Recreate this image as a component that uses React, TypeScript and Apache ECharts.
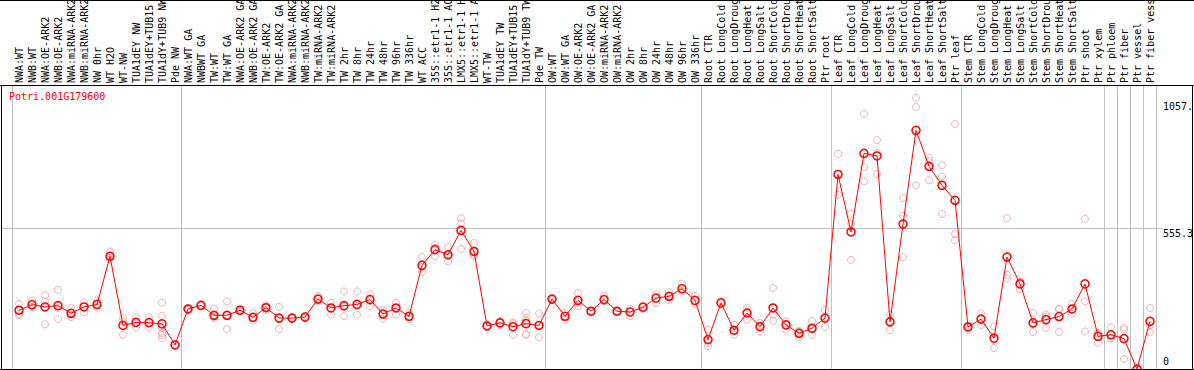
import React, { useEffect, useRef } from "react";
import * as echarts from "echarts";

const geneId = "Potri.001G179600";

const categories = [
  "NWA:WT", "NWB:WT", "NWA:OE-ARK2", "NWB:OE-ARK2", "NWA:miRNA-ARK2", "NWB:miRNA-ARK2",
  "NW 0hr", "WT H2O", "WT-NW", "TUA1dEY NW", "TUA1dEY+TUB15", "TUA1dY+TUB9 NW", "Pde NW",
  "NWA:WT GA", "NWBWT GA", "TW:WT", "TW:WT GA", "NWA:OE-ARK2 GA", "NWB:OE-ARK2 GA",
  "TW:OE-ARK2", "TW:OE-ARK2 GA", "NWA:miRNA-ARK2", "NWB:miRNA-ARK2", "TW:miRNA-ARK2",
  "TW:miRNA-ARK2", "TW 2hr", "TW 8hr", "TW 24hr", "TW 48hr", "TW 96hr", "TW 336hr",
  "WT ACC", "35S::etr1-1 H2O", "35S::etr1-1 ACC", "LMX5::etr1-1 H2O", "LMX5::etr1-1 ACC",
  "WT-TW", "TUA1dEY TW", "TUA1dEY+TUB15", "TUA1dY+TUB9 TW", "Pde TW",
  "OW:WT", "OW:WT GA", "OW:OE-ARK2", "OW:OE-ARK2 GA", "OW:miRNA-ARK2", "OW:miRNA-ARK2",
  "OW 2hr", "OW 8hr", "OW 24hr", "OW 48hr", "OW 96hr", "OW 336hr",
  "Root CTR", "Root LongCold", "Root LongDrought", "Root LongHeat", "Root LongSalt",
  "Root ShortCold", "Root ShortDrought", "Root ShortHeat", "Root ShortSalt", "Ptr root",
  "Leaf CTR", "Leaf LongCold", "Leaf LongDrought", "Leaf LongHeat", "Leaf LongSalt",
  "Leaf ShortCold", "Leaf ShortDrought", "Leaf ShortHeat", "Leaf ShortSalt", "Ptr leaf",
  "Stem CTR", "Stem LongCold", "Stem LongDrought", "Stem LongHeat", "Stem LongSalt",
  "Stem ShortCold", "Stem ShortDrought", "Stem ShortHeat", "Stem ShortSalt", "Ptr shoot",
  "Ptr xylem", "Ptr phloem", "Ptr fiber", "Ptr vessel", "Ptr fiber vessel",
];

const means = [
  232, 254, 245, 250, 220, 245, 255, 445, 172, 184, 183, 178, 95,
  237, 251, 212, 212, 232, 204, 242, 201, 201, 205, 276, 241, 250, 255, 274, 217, 241, 208,
  409, 471, 451, 547, 464, 170, 182, 167, 179, 172,
  276, 208, 271, 228, 274, 228, 225, 244, 280, 287, 317, 271,
  116, 261, 153, 221, 167, 241, 174, 141, 161, 201,
  768, 541, 851, 841, 186, 572, 942, 800, 725, 666,
  166, 197, 122, 442, 336, 182, 195, 207, 237, 336,
  129, 135, 120, 0, 188,
];

const replicates = [
  [257, 217, 212], [271, 244, 247], [291, 267, 176], [312, 197, 241], [242, 204, 214],
  [263, 224, 245], [271, 242, 250], [464, 432, 440], [201, 135, 188], [204, 164, 184],
  [204, 164, 183], [261, 210, 162, 142, 133, 122], [94, 96],
  [240, 233], [251, 251], [237, 201, 205], [267, 158, 212], [236, 227], [221, 190, 204],
  [251, 232, 245], [245, 158, 201], [204, 198], [201, 209], [289, 268, 276], [261, 215, 241],
  [306, 208, 245], [306, 215, 250], [295, 248, 278], [232, 199, 220], [261, 215, 241],
  [221, 197], [442, 383, 403], [491, 445, 478], [482, 425, 447], [595, 575, 474],
  [497, 451, 445], [172, 167], [190, 172, 182], [184, 135, 180], [221, 201, 138, 135, 190],
  [219, 125, 173],
  [280, 272], [221, 195], [300, 248, 265], [230, 225], [289, 267], [230, 225], [238, 208],
  [251, 236], [295, 261], [303, 287, 271], [337, 306, 308], [289, 267, 257],
  [155, 103, 90], [267, 254], [174, 135, 150], [242, 195, 226], [182, 148, 171],
  [320, 190, 215], [178, 155, 188], [151, 125, 146], [190, 135, 157], [233, 166, 204],
  [849, 688, 768], [612, 575, 431], [1007, 797, 741], [903, 853, 770], [215, 153, 189],
  [675, 605, 442], [1070, 1034, 725], [833, 820, 745], [804, 760, 612], [967, 533, 508],
  [172, 155, 170], [219, 174, 199], [168, 83, 116], [595, 372, 357], [346, 316, 345],
  [221, 146, 178], [215, 162, 207], [238, 146, 236], [257, 217, 236], [592, 267, 148],
  [142, 103, 140], [164, 120, 122], [164, 155, 40], [0, 0, 0], [241, 172, 145],
];

// group separators drawn before these category indices (0-based)
const separatorBefore = [0, 13, 41, 53, 63, 73, 84, 85, 86, 87];
const yMax = 1121;
const yLabelValues = [555.3, 1057];
const yLabelTexts = ["555.3", "1057."];
const yGuideValue = 555.3;

const MONO = "DejaVu Sans Mono";
const GREY = "#c0c0c0";

export default function App() {
  const ref = useRef<HTMLDivElement>(null);

  useEffect(() => {
    if (!ref.current) return;
    const chart = echarts.init(ref.current, undefined, { renderer: "svg" });
    const sepFn = (index: number) => separatorBefore.indexOf(index) >= 0;

    const repPoints: [number, number][] = [];
    replicates.forEach((reps, i) => reps.forEach((v) => repPoints.push([i, v])));

    const option: any = {
      animation: false,
      grid: {
        left: 12.5,
        right: 37.5,
        top: 85,
        bottom: 1,
        containLabel: false,
        outerBoundsMode: "none",
      },
      xAxis: [
        {
          type: "category",
          data: categories,
          position: "top",
          boundaryGap: true,
          axisLine: { show: false },
          axisTick: { show: true, interval: sepFn, length: 85, lineStyle: { color: GREY, width: 1 } },
          axisLabel: {
            rotate: 90,
            interval: 0,
            margin: 2,
            fontFamily: MONO,
            fontSize: 10,
            color: "#000",
            hideOverlap: false,
          },
          splitLine: { show: true, interval: sepFn, lineStyle: { color: GREY, width: 1 } },
        },
      ],
      yAxis: [
        {
          type: "value",
          position: "right",
          min: 0,
          max: yMax,
          axisLine: { show: false },
          axisTick: { show: false },
          splitLine: { show: false },
          axisLabel: {
            customValues: yLabelValues,
            formatter: (v: number) => {
              const i = yLabelValues.findIndex((x) => Math.abs(x - v) < 0.01);
              return i >= 0 ? yLabelTexts[i] : "";
            },
            verticalAlign: "top",
            margin: 6.5,
            fontFamily: MONO,
            fontSize: 10,
            color: "#000",
          },
        },
        {
          type: "value",
          position: "right",
          min: 0,
          max: yMax,
          axisLine: { show: false },
          axisTick: { show: false },
          splitLine: { show: false },
          axisLabel: {
            customValues: [0],
            formatter: () => "0",
            verticalAlign: "bottom",
            padding: [0, 0, 3, 0],
            margin: 6.5,
            fontFamily: MONO,
            fontSize: 10,
            color: "#000",
          },
        },
      ],
      series: [
        {
          type: "scatter",
          data: repPoints,
          symbol: "circle",
          symbolSize: 7,
          itemStyle: { color: "rgba(0,0,0,0)", borderColor: "#f0a0a0", borderWidth: 1 },
          z: 2,
        },
        {
          type: "line",
          data: means,
          symbol: "circle",
          symbolSize: 8,
          showSymbol: true,
          itemStyle: { color: "rgba(0,0,0,0)", borderColor: "#ff0000", borderWidth: 1.5 },
          lineStyle: { color: "#ff0000", width: 1 },
          z: 3,
        },
      ],
    };
    chart.setOption(option);

    const gy = Math.round(chart.convertToPixel({ yAxisIndex: 0 }, yGuideValue) as number) + 0.5;
    const black = { stroke: "#000", lineWidth: 1 };
    chart.setOption({
      graphic: [
        { type: "line", z: 1, shape: { x1: 1.5, y1: gy, x2: 1163, y2: gy }, style: { stroke: GREY, lineWidth: 1 } },
        { type: "line", z: 10, shape: { x1: 0, y1: 0.5, x2: 1194, y2: 0.5 }, style: black },
        { type: "line", z: 10, shape: { x1: 0, y1: 85.5, x2: 1194, y2: 85.5 }, style: black },
        { type: "line", z: 10, shape: { x1: 0, y1: 369.5, x2: 1194, y2: 369.5 }, style: black },
        { type: "line", z: 10, shape: { x1: 1.5, y1: 85, x2: 1.5, y2: 370 }, style: black },
        { type: "line", z: 10, shape: { x1: 1192.5, y1: 85, x2: 1192.5, y2: 370 }, style: black },
        {
          type: "text",
          z: 10,
          left: 9,
          top: 91,
          style: { text: geneId, fill: "#ff0000", fontFamily: MONO, fontSize: 10 },
        },
      ],
    });

    return () => chart.dispose();
  }, []);

  return (
    <div
      ref={ref}
      style={{ position: "absolute", left: 0, top: 0, width: 1194, height: 370, background: "#fff" }}
    />
  );
}
